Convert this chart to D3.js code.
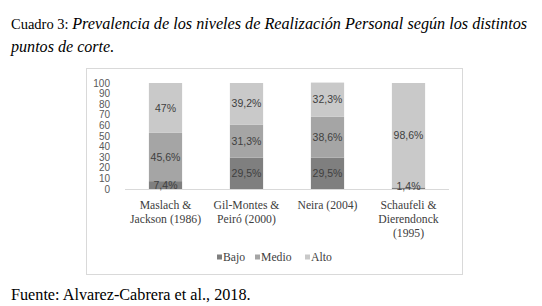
<!DOCTYPE html>
<html><head><meta charset="utf-8">
<script src="https://cdn.jsdelivr.net/npm/d3@7"></script>
<style>body{margin:0;background:#fff}</style>
</head><body>
<svg id="c" width="542" height="306"></svg>
<script>
const categories = [["Maslach &","Jackson (1986)"],["Gil-Montes &","Peiró (2000)"],["Neira (2004)"],["Schaufeli &","Dierendonck","(1995)"]];
const seriesNames = ["Bajo","Medio","Alto"];
const bajo = [7.4, 29.5, 29.5, 1.4];
const medio = [45.6, 31.3, 38.6, 0];
const alto = [47, 39.2, 32.3, 98.6];
const bajoLabels = ["7,4%","29,5%","29,5%","1,4%"];
const medioLabels = ["45,6%","31,3%","38,6%",""];
const altoLabels = ["47%","39,2%","32,3%","98,6%"];
const yTicks = [0,10,20,30,40,50,60,70,80,90,100];
const colors = ["#7f7f7f","#a5a5a5","#c9c9c9"];

const svg = d3.select("#c");
const serif = "'Liberation Serif','Times New Roman',serif";
const sans = "'Liberation Sans',Arial,sans-serif";

// Title
const t = svg.append("text").attr("x",11).attr("y",29).attr("font-family",serif).attr("font-size",14.5).attr("fill","#000");
t.append("tspan").text("Cuadro 3: ");
t.append("tspan").attr("font-style","italic").attr("font-size",16.2).text("Prevalencia de los niveles de Realización Personal según los distintos");
svg.append("text").attr("x",11).attr("y",52).attr("font-family",serif).attr("font-size",16.1).attr("font-style","italic").text("puntos de corte.");

// chart box
svg.append("rect").attr("x",86.5).attr("y",68.5).attr("width",376).attr("height",206).attr("fill","#fff").attr("stroke","#d9d9d9");

const x = d3.scaleBand().domain(d3.range(categories.length)).range([125,449]).paddingInner(0.59).paddingOuter(0.295);
const y = d3.scaleLinear().domain([0,100]).range([189,83]);

// y labels
svg.append("g").selectAll("text").data(yTicks).join("text")
  .attr("x",110).attr("y",d=>y(d)).attr("dy","0.35em").attr("text-anchor","end")
  .attr("font-family",sans).attr("font-size",10).attr("fill","#595959").text(d=>d);

const rows = categories.map((c,i)=>({i, Bajo:bajo[i], Medio:medio[i], Alto:alto[i]}));
const stack = d3.stack().keys(seriesNames)(rows);
const labels = [bajoLabels, medioLabels, altoLabels];

stack.forEach((s,k)=>{
  svg.append("g").selectAll("rect").data(s).join("rect")
    .attr("x",d=>x(d.data.i)).attr("width",x.bandwidth())
    .attr("y",d=>y(d[1])).attr("height",d=>Math.max(0,y(d[0])-y(d[1])))
    .attr("fill",colors[k]);
});

// axis line
svg.append("line").attr("x1",125).attr("x2",449).attr("y1",189.5).attr("y2",189.5).attr("stroke","#d9d9d9");

stack.forEach((s,k)=>{
  svg.append("g").selectAll("text").data(s).join("text")
    .attr("x",d=>x(d.data.i)+x.bandwidth()/2)
    .attr("y",d=>Math.min(y((d[0]+d[1])/2), 186.5)).attr("dy","0.35em")
    .attr("text-anchor","middle").attr("font-family",sans).attr("font-size",10.5).attr("fill","#404040")
    .text((d,i)=>labels[k][i]);
});

// category labels
const cg = svg.append("g");
categories.forEach((lines,i)=>{
  const tx = cg.append("text").attr("x",x(i)+x.bandwidth()/2).attr("y",209).attr("text-anchor","middle")
    .attr("font-family",serif).attr("font-size",11.7).attr("fill","#404040");
  lines.forEach((l,j)=>tx.append("tspan").attr("x",x(i)+x.bandwidth()/2).attr("dy",j?13.8:0).text(l));
});

// legend
const legX = [217, 255, 305];
const lg = svg.append("g");
seriesNames.forEach((n,k)=>{
  lg.append("rect").attr("x",legX[k]).attr("y",254.5).attr("width",5).attr("height",5).attr("fill",colors[k]);
  lg.append("text").attr("x",legX[k]+6).attr("y",261).attr("font-family",serif).attr("font-size",11.7).attr("fill","#404040").text(n);
});

// footer
svg.append("text").attr("x",11).attr("y",300).attr("font-family",serif).attr("font-size",16.2).text("Fuente: Alvarez-Cabrera et al., 2018.");
</script>
</body></html>
